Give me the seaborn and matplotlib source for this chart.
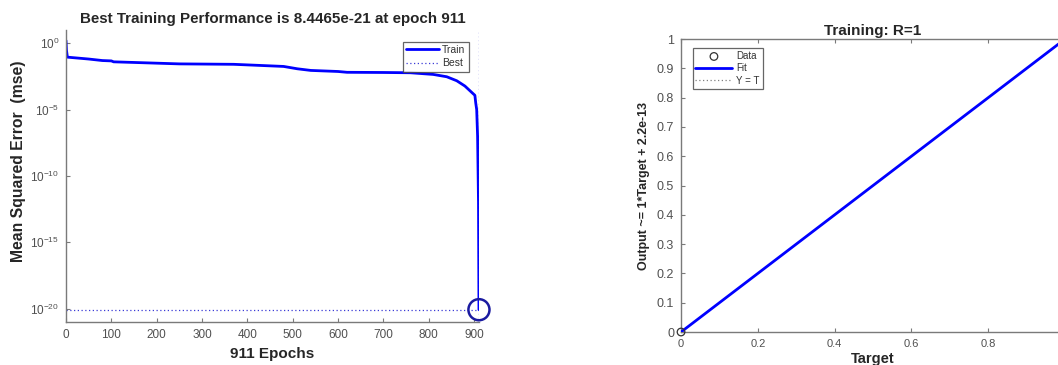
import numpy as np
import pandas as pd
import matplotlib
matplotlib.use("Agg")
import matplotlib.pyplot as plt
import matplotlib.ticker as mticker
import seaborn as sns

# ---------------- data ----------------
train_epochs = [0, 1, 3, 20, 50, 80, 100, 105, 160, 250, 370, 420, 480, 510, 540,
                600, 620, 700, 760, 810, 840, 862, 880, 895, 902, 904, 906, 908, 910, 911]
train_mse = [1.6, 0.3, 0.09, 0.08, 0.065, 0.05, 0.047, 0.04, 0.035, 0.028, 0.026,
             0.022, 0.018, 0.012, 0.009, 0.0075, 0.0065, 0.0063, 0.006, 0.0045,
             0.003, 0.0015, 0.0006, 0.0002, 0.00012, 3e-5, 1e-5, 1e-7, 1e-12, 8.4465e-21]
best_epoch = 911
best_mse = 8.4465e-21
perf_yticks = [1e-20, 1e-15, 1e-10, 1e-5, 1e0]
perf_xticks = [0, 100, 200, 300, 400, 500, 600, 700, 800, 900]

reg_targets = [0.0, 1.0]
reg_outputs = [0.0, 1.0]
fit_x = [0.0, 1.0]
fit_y = [0.0, 1.0]
reg_yticks = [0, 0.1, 0.2, 0.3, 0.4, 0.5, 0.6, 0.7, 0.8, 0.9, 1.0]
reg_ytick_labels = ["0", "0.1", "0.2", "0.3", "0.4", "0.5", "0.6", "0.7", "0.8", "0.9", "1"]
reg_xticks = [0, 0.2, 0.4, 0.6, 0.8]
reg_xtick_labels = ["0", "0.2", "0.4", "0.6", "0.8"]

# ---------------- style ----------------
sns.set_theme(style="white")
plt.rcParams["font.family"] = ["Liberation Sans", "DejaVu Sans"]
plt.rcParams["mathtext.fontset"] = "custom"
plt.rcParams["mathtext.rm"] = "Liberation Sans"
plt.rcParams["mathtext.default"] = "regular"

spine_c = "#7a7a7a"
tick_c = "#505050"
label_c = "#262626"

fig = plt.figure(figsize=(10.58, 3.65), dpi=100)
ax1 = fig.add_axes([0.0624, 0.1178, 0.3903, 0.800])
ax2 = fig.add_axes([0.6437, 0.0904, 0.3630, 0.8027])

# ---------------- left: performance ----------------
df_train = pd.DataFrame({"epoch": train_epochs, "mse": train_mse})
sns.lineplot(data=df_train, x="epoch", y="mse", ax=ax1, color="#0000ff", lw=2.0,
             label="Train", legend=False)
ax1.set_yscale("log")
ax1.set_xlim(0, 911)
ax1.set_ylim(1e-21, 10)
ax1.axhline(best_mse, color="#3b3bd6", lw=0.9, ls=(0, (1, 2)), label="Best")
ax1.axvline(best_epoch, color="#3b3bd6", lw=0.9, ls=(0, (1, 2)))
sns.scatterplot(x=[best_epoch], y=[best_mse], ax=ax1, s=230, marker="o",
                facecolor="none", edgecolor="#1a1aa0", linewidth=1.8, zorder=5,
                legend=False, clip_on=False)

ax1.yaxis.set_major_locator(mticker.FixedLocator(perf_yticks))
ax1.yaxis.set_major_formatter(mticker.LogFormatterSciNotation())
ax1.yaxis.set_minor_locator(mticker.NullLocator())
ax1.set_xticks(perf_xticks)
for s in ["top", "right"]:
    ax1.spines[s].set_visible(False)
for s in ["left", "bottom"]:
    ax1.spines[s].set_color(spine_c)
    ax1.spines[s].set_linewidth(1.0)
ax1.tick_params(axis="both", direction="in", length=3, width=0.8, color=spine_c,
                labelcolor=tick_c, labelsize=8.5, pad=5, left=True, bottom=True)
ax1.set_title("Best Training Performance is 8.4465e-21 at epoch 911",
              fontsize=10.9, fontweight="bold", color=label_c, pad=5)
ax1.set_xlabel("911 Epochs", fontsize=11, fontweight="bold", color=label_c, labelpad=4)
ax1.set_ylabel("Mean Squared Error  (mse)", fontsize=11.3, fontweight="bold",
               color=label_c)
ax1.yaxis.set_label_coords(-0.096, 0.551)
leg1 = ax1.legend(loc="upper right", bbox_to_anchor=(0.975, 0.96), fontsize=7.5,
                  frameon=True, fancybox=False, edgecolor="#404040",
                  handlelength=3.2, handletextpad=0.3, borderpad=0.3,
                  labelspacing=0.35, borderaxespad=0)
leg1.get_frame().set_linewidth(0.9)
for t in leg1.get_texts():
    t.set_color("#333333")

# ---------------- right: regression ----------------
sns.lineplot(x=[0, 1], y=[0, 1], ax=ax2, color="#808080", lw=0.9, ls=(0, (1, 2)),
             label="Y = T", legend=False, zorder=1)
sns.lineplot(x=fit_x, y=fit_y, ax=ax2, color="#0000ff", lw=2.0, label="Fit",
             legend=False, zorder=3)
sns.scatterplot(x=reg_targets, y=reg_outputs, ax=ax2, s=30, marker="o",
                facecolor="none", edgecolor="#333333", linewidth=0.9,
                label="Data", legend=False, zorder=4, clip_on=False)
ax2.set_xlim(0, 1)
ax2.set_ylim(0, 1)
ax2.set_xticks(reg_xticks)
ax2.set_xticklabels(reg_xtick_labels)
ax2.set_yticks(reg_yticks)
ax2.set_yticklabels(reg_ytick_labels)
for s in ["top", "right", "left", "bottom"]:
    ax2.spines[s].set_color(spine_c)
    ax2.spines[s].set_linewidth(1.0)
ax2.tick_params(axis="both", direction="in", length=3, width=0.8, color=spine_c,
                labelcolor=tick_c, labelsize=8, pad=5, top=True, right=True,
                left=True, bottom=True)
ax2.tick_params(axis="y", pad=5, labelsize=9)
ax2.set_title("Training: R=1", fontsize=11, fontweight="bold", color=label_c, pad=3)
ax2.set_xlabel("Target", fontsize=10.5, fontweight="bold", color=label_c, labelpad=2)
ax2.set_ylabel("Output ~= 1*Target + 2.2e-13", fontsize=9,
               fontweight="bold", color=label_c,
               family=["Liberation Sans Narrow", "Liberation Sans", "DejaVu Sans"])
ax2.yaxis.set_label_coords(-0.081, 0.5)

h, l = ax2.get_legend_handles_labels()
order = [l.index("Data"), l.index("Fit"), l.index("Y = T")]
leg2 = ax2.legend([h[i] for i in order], [l[i] for i in order], loc="upper left",
                  bbox_to_anchor=(0.03, 0.969), fontsize=7, frameon=True,
                  fancybox=False, edgecolor="#404040", handlelength=3.8,
                  handletextpad=0.4, borderpad=0.3, labelspacing=0.25,
                  borderaxespad=0)
leg2.get_frame().set_linewidth(0.9)
for t in leg2.get_texts():
    t.set_color("#333333")

fig.savefig("out.png", dpi=100)
